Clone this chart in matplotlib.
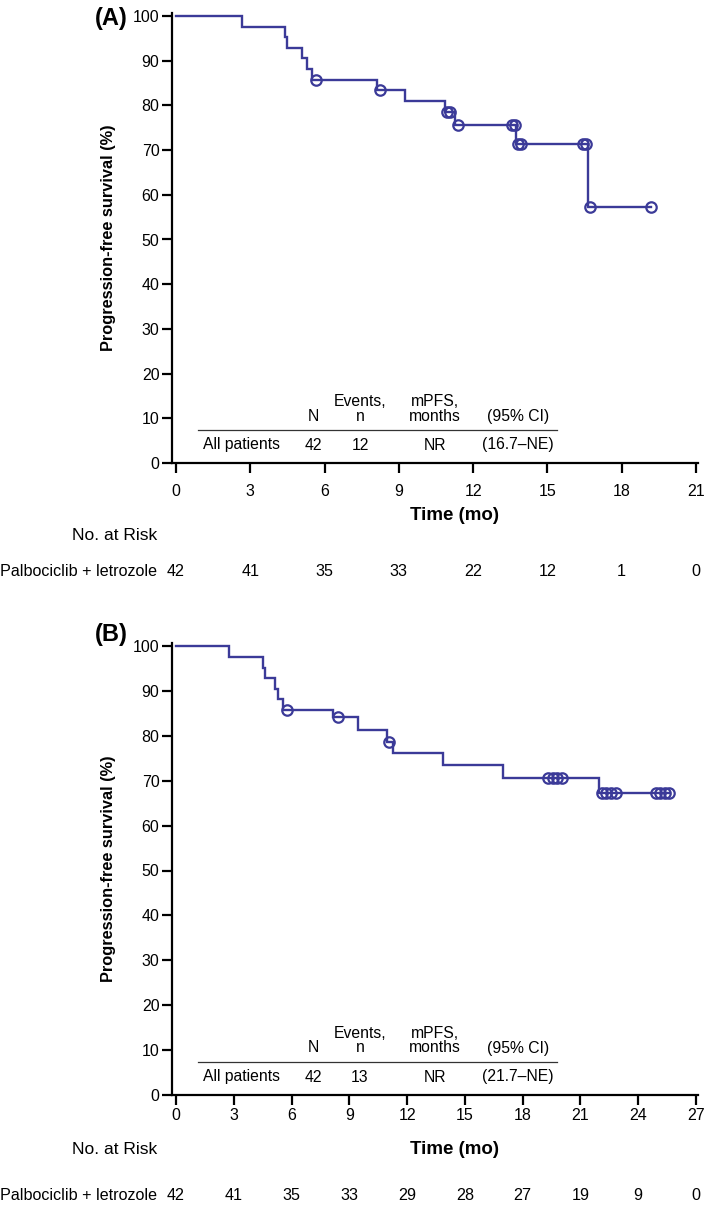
import matplotlib
matplotlib.use('Agg')
import matplotlib.pyplot as plt
from matplotlib.transforms import blended_transform_factory as btf

# ---------------- data ----------------
# Panel A
a_step_t = [0, 2.65, 4.40, 4.50, 5.10, 5.30, 5.50, 8.10, 9.25, 10.87, 11.27, 13.73, 16.62]
a_step_s = [100, 97.6, 95.2, 92.9, 90.5, 88.1, 85.7, 83.5, 81.0, 78.6, 75.6, 71.4, 57.3]
a_last_t = 19.2
a_cens_t = [5.65, 8.24, 10.95, 11.08, 11.38, 13.58, 13.70, 13.80, 13.92, 16.45, 16.55, 16.72, 19.2]
a_cens_s = [85.7, 83.5, 78.6, 78.6, 75.6, 75.6, 75.6, 71.4, 71.4, 71.4, 71.4, 57.3, 57.3]
a_xticks = [0, 3, 6, 9, 12, 15, 18, 21]
a_risk = [42, 41, 35, 33, 22, 12, 1, 0]
a_table = ["All patients", "42", "12", "NR", "(16.7\u2013NE)"]

# Panel B
b_step_t = [0, 2.77, 4.50, 4.62, 5.14, 5.31, 5.55, 8.17, 9.47, 10.95, 11.28, 13.87, 16.96, 21.97]
b_step_s = [100, 97.6, 95.2, 92.9, 90.5, 88.1, 85.7, 84.2, 81.2, 78.6, 76.2, 73.5, 70.5, 67.2]
b_last_t = 25.6
b_cens_t = [5.78, 8.43, 11.05, 19.3, 19.55, 19.8, 20.05, 22.1, 22.35, 22.6, 22.85, 24.9, 25.15, 25.4, 25.6]
b_cens_s = [85.7, 84.2, 78.6, 70.5, 70.5, 70.5, 70.5, 67.2, 67.2, 67.2, 67.2, 67.2, 67.2, 67.2, 67.2]
b_xticks = [0, 3, 6, 9, 12, 15, 18, 21, 24, 27]
b_risk = [42, 41, 35, 33, 29, 28, 27, 19, 9, 0]
b_table = ["All patients", "42", "13", "NR", "(21.7\u2013NE)"]

yticks = [0, 10, 20, 30, 40, 50, 60, 70, 80, 90, 100]
table_head1 = ["", "", "Events,", "mPFS,", ""]
table_head2 = ["", "N", "n", "months", "(95% CI)"]
risk_title = "No. at Risk"
risk_group = "Palbociclib + letrozole"

# ---------------- style ----------------
W, H = 709, 1213
COLOR = '#3b3a98'
TXT = ['Liberation Sans', 'DejaVu Sans']
plt.rcParams['font.family'] = TXT

fig = plt.figure(figsize=(W / 100, H / 100), dpi=100)

def fx(px):
    return px / W

def fy(py):
    return 1 - py / H

# table column centers (pixels)
col_x = [241, 313, 360, 435, 518]
line_x = (198, 557)


def panel(ax_rect, xlim, xticks, step_t, step_s, last_t, cens_t, cens_s,
          risk, table, label, label_py, axis0_py, time_py,
          risktitle_py, riskrow_py, xpad):
    ax = fig.add_axes(ax_rect)
    ax.step(list(step_t) + [last_t], list(step_s) + [step_s[-1]], where='post',
            color=COLOR, lw=1.7, solid_joinstyle='miter')
    ax.plot(cens_t, cens_s, 'o', mfc='none', mec=COLOR, ms=7.5, mew=1.6)
    ax.set_xlim(*xlim)
    ax.set_ylim(0, 100.6)
    ax.set_xticks(xticks)
    ax.set_yticks(yticks)
    for s in ['top', 'right']:
        ax.spines[s].set_visible(False)
    for s in ['left', 'bottom']:
        ax.spines[s].set_linewidth(1.6)
    ax.tick_params(direction='out', length=7.5, width=1.6, pad=1.5, labelsize=11.5)
    ax.tick_params(axis='x', pad=xpad)

    # y label
    fig.text(fx(108), (ax_rect[1] + ax_rect[3] / 2), 'Progression-free survival (%)',
             rotation=90, ha='center', va='center', fontsize=11.8, fontweight='bold')
    # x label
    fig.text(fx(455), fy(time_py), 'Time (mo)', ha='center', va='center',
             fontsize=13.5, fontweight='bold')
    # panel label
    fig.text(fx(95), fy(label_py), label, ha='left', va='center',
             fontsize=17, fontweight='bold')

    # summary table inside the axes
    h1 = axis0_py - 62
    h2 = axis0_py - 47
    ln = axis0_py - 33
    rw = axis0_py - 18
    for i in range(5):
        if table_head1[i]:
            fig.text(fx(col_x[i]), fy(h1), table_head1[i], ha='center', va='center', fontsize=11.3)
        if table_head2[i]:
            fig.text(fx(col_x[i]), fy(h2), table_head2[i], ha='center', va='center', fontsize=11.3)
        fig.text(fx(col_x[i]), fy(rw), table[i], ha='center', va='center', fontsize=11.3)
    fig.add_artist(plt.Line2D([fx(line_x[0]), fx(line_x[1])], [fy(ln), fy(ln)],
                              color='#333333', lw=0.9))

    # number at risk
    fig.text(fx(157), fy(risktitle_py), risk_title, ha='right', va='center', fontsize=12.5)
    fig.text(fx(0), fy(riskrow_py), risk_group, ha='left', va='center', fontsize=11.6)
    tr = btf(ax.transData, fig.transFigure)
    for xt, n in zip(xticks, risk):
        ax.text(xt, fy(riskrow_py), str(n), transform=tr, ha='center', va='center',
                fontsize=11.6, clip_on=False)
    return ax

# Panel A geometry: x=0 at 176px, 21 at 696px ; y=0 at 463px, 100 at 16px
a_ppm = (696 - 176) / 21.0
a_left_px, a_right_px = 172, 698
a_xlim = ((a_left_px - 176) / a_ppm, (a_right_px - 176) / a_ppm)
a_ppy = (463 - 16) / 100.0
a_top_px = 463 - 100.6 * a_ppy
rectA = [fx(a_left_px), fy(463), (a_right_px - a_left_px) / W, (463 - a_top_px) / H]
panel(rectA, a_xlim, a_xticks, a_step_t, a_step_s, a_last_t, a_cens_t, a_cens_s,
      a_risk, a_table, '(A)', 18, 463, 515, 535, 571, 7.5)

# Panel B geometry: x=0 at 176px, 27 at 696px ; y=0 at 1095px, 100 at 646px
b_ppm = (696 - 176) / 27.0
b_left_px, b_right_px = 172, 698
b_xlim = ((b_left_px - 176) / b_ppm, (b_right_px - 176) / b_ppm)
b_ppy = (1095 - 646) / 100.0
b_top_px = 1095 - 100.6 * b_ppy
rectB = [fx(b_left_px), fy(1095), (b_right_px - b_left_px) / W, (1095 - b_top_px) / H]
panel(rectB, b_xlim, b_xticks, b_step_t, b_step_s, b_last_t, b_cens_t, b_cens_s,
      b_risk, b_table, '(B)', 635, 1095, 1150, 1150, 1195, 2)

fig.savefig('out.png', dpi=100)
